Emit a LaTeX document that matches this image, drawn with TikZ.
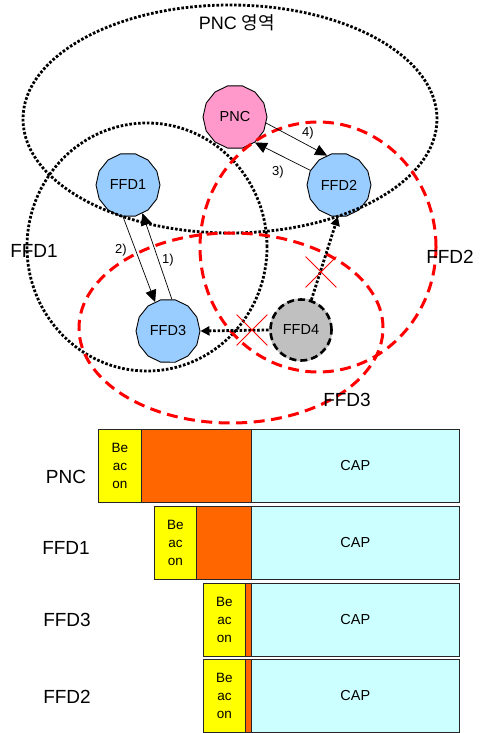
\documentclass[tikz,border=0pt]{standalone}
\usepackage{fontspec}
\setmainfont{Liberation Sans}
\newfontfamily\krfont{Noto Sans CJK KR}
\usetikzlibrary{shapes.geometric,shapes.misc,arrows.meta}
\definecolor{pncpink}{HTML}{FF99CC}
\definecolor{ffdblue}{HTML}{99CCFF}
\definecolor{ffdgray}{HTML}{C0C0C0}
\definecolor{bcnyellow}{HTML}{FFFF00}
\definecolor{ctaorange}{HTML}{FF6600}
\definecolor{capcyan}{HTML}{CCFFFF}
\definecolor{rangered}{HTML}{FF0000}
\begin{document}
\begin{tikzpicture}[x=1pt,y=-1pt,
  dev/.style={regular polygon, regular polygon sides=14, draw, line width=0.9pt,
    minimum size=64pt, inner sep=0pt, font=\fontsize{14.5}{16}\selectfont},
  blkdot/.style={black, dash pattern=on 2.6pt off 1.8pt, line width=2.8pt},
  reddash/.style={rangered, dash pattern=on 11pt off 6.5pt, line width=3pt},
  rangeshape/.style={ellipse, inner sep=0pt},
  msg/.style={line width=0.7pt, -{Triangle[length=12pt,width=11pt]}},
  dotmsg/.style={blkdot, -{Triangle[length=9pt,width=9pt]}},
  steplbl/.style={font=\fontsize{13}{15}\selectfont, inner sep=0pt},
  biglbl/.style={font=\fontsize{19}{21}\selectfont, inner sep=0pt},
  xmark/.style={cross out, draw=rangered, line width=0.8pt, minimum width=30pt,
    minimum height=30pt, inner sep=0pt},
  slotbar/.style={draw=black!85, line width=0.8pt, anchor=north west, inner sep=0pt,
    minimum height=73pt},
  bcnslot/.style={slotbar, fill=bcnyellow, align=center,
    font=\fontsize{13.5}{18}\selectfont},
  ctaslot/.style={slotbar, fill=ctaorange},
  capslot/.style={slotbar, fill=capcyan, font=\fontsize{14.5}{16}\selectfont}
]
\useasboundingbox (0,0) rectangle (483,733);

% devices
\node[dev, fill=pncpink] (pnc) at (235,117) {PNC};
\node[dev, fill=ffdblue] (ffd1) at (128,185) {FFD1};
\node[dev, fill=ffdblue] (ffd2) at (339,185) {FFD2};
\node[dev, fill=ffdblue] (ffd3) at (168,331) {FFD3};
\node[dev, fill=ffdgray, draw=none] (ffd4) at (301,330) {FFD4};
\draw[line width=2.6pt, dash pattern=on 7pt off 4pt] (ffd4.center) circle (30.5pt);

% ranges
\node[rangeshape, blkdot, draw, minimum width=414pt, minimum height=228pt] (pncrange) at (230,119) {};
\node[rangeshape, blkdot, draw, minimum width=240pt, minimum height=248pt] (ffd1range) at (147,247) {};
\node[rangeshape, reddash, draw, minimum width=236pt, minimum height=250pt] (ffd2range) at (318,247) {};
\node[rangeshape, reddash, draw, minimum width=304pt, minimum height=190pt] (ffd3range) at (231,328) {};

% range labels
\node[font=\fontsize{18}{20}\selectfont, inner sep=0pt] (pnclbl) at (237,23) {PNC {\krfont 영역}};
\node[biglbl] (ffd1lbl) at (34,251) {FFD1};
\node[biglbl] (ffd2lbl) at (450,257) {FFD2};
\node[biglbl] (ffd3lbl) at (347,400) {FFD3};

% messages
\draw[msg] (pnc.-11) -- (ffd2.112);
\draw[msg] (ffd2.153) -- (pnc.-52);
\draw[msg] (ffd1.-99) -- (ffd3.114);
\draw[msg] (ffd3.83) -- (ffd1.-63);
\node[steplbl] (s4) at (308,133) {4)};
\node[steplbl] (s3) at (278,172) {3)};
\node[steplbl] (s2) at (121,250) {2)};
\node[steplbl] (s1) at (168,260) {1)};

% failed links
\draw[dotmsg] (ffd4.west) -- (ffd3.east);
\draw[dotmsg] (ffd4.71) -- (ffd2.-92);
\node[xmark] (x1) at (252,330) {};
\node[xmark] (x2) at (321,272) {};

% superframes
\node[biglbl] (rowpnc) at (66,477) {PNC};
\node[biglbl] (rowffd1) at (66,548) {FFD1};
\node[biglbl] (rowffd3) at (67,620) {FFD3};
\node[biglbl] (rowffd2) at (67,697) {FFD2};

\node[bcnslot, minimum width=43pt, text width=43pt] (pncb) at (98,429) {Be\\ac\\on};
\node[ctaslot, minimum width=110pt] (pnco) at (141,429) {};
\node[capslot, minimum width=208pt] (pncc) at (251,429) {CAP};

\node[bcnslot, minimum width=42pt, text width=42pt] (f1b) at (154,506) {Be\\ac\\on};
\node[ctaslot, minimum width=55pt] (f1o) at (196,506) {};
\node[capslot, minimum width=208pt] (f1c) at (251,506) {CAP};

\node[bcnslot, minimum width=42pt, text width=42pt] (f3b) at (203,583) {Be\\ac\\on};
\node[ctaslot, minimum width=6pt] (f3o) at (245,583) {};
\node[capslot, minimum width=208pt] (f3c) at (251,583) {CAP};

\node[bcnslot, minimum width=42pt, text width=42pt] (f2b) at (203,659) {Be\\ac\\on};
\node[ctaslot, minimum width=6pt] (f2o) at (245,659) {};
\node[capslot, minimum width=208pt] (f2c) at (251,659) {CAP};
\end{tikzpicture}
\end{document}
